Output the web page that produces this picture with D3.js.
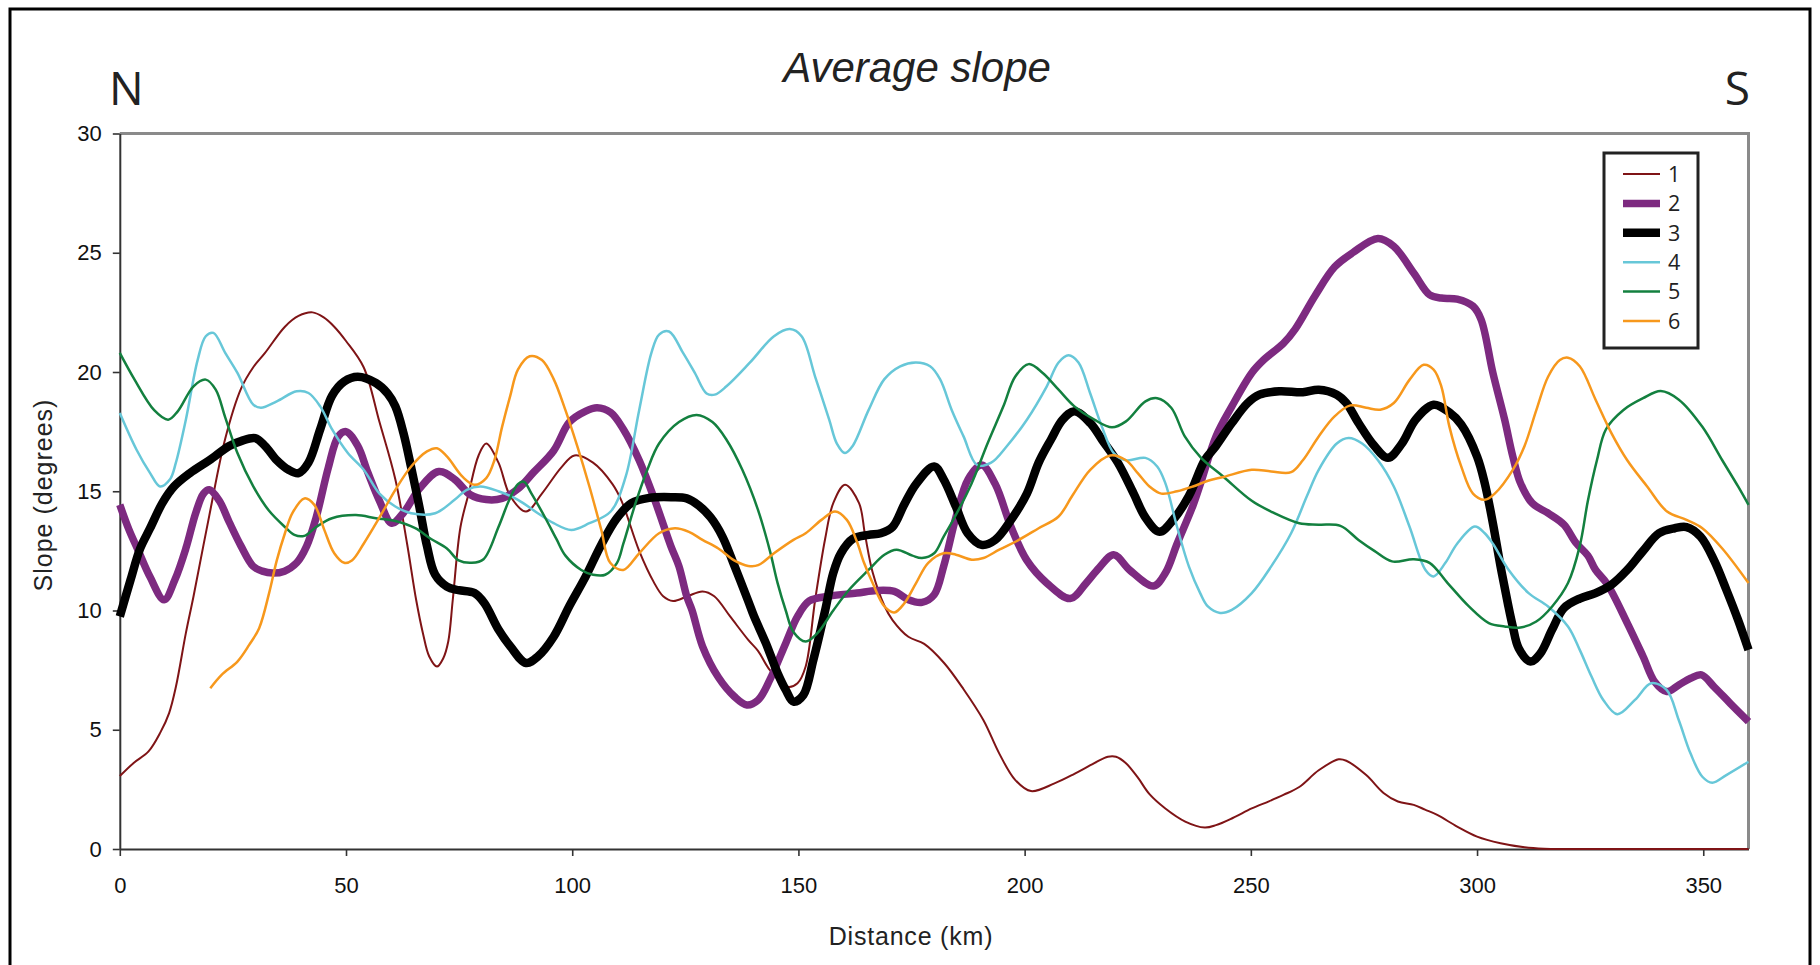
<!DOCTYPE html>
<html>
<head>
<meta charset="utf-8">
<script src="https://cdn.jsdelivr.net/npm/d3@7"></script>
<style>
  html, body { margin: 0; padding: 0; background: #fff; }
  svg { display: block; }
</style>
</head>
<body>
<svg id="chart" width="1820" height="965"></svg>
<script>
// ---------------- DATA (distance km, slope degrees) ----------------
const seriesNames = ["1", "2", "3", "4", "5", "6"];
const xTicks = [0, 50, 100, 150, 200, 250, 300, 350];
const yTicks = [0, 5, 10, 15, 20, 25, 30];

const series1 = [[0,3.06],[3,3.6],[6.3,4.08],[9,4.9],[10.9,5.7],[12.4,6.8],[14.6,9.05],[16.3,10.6],[19.8,14.0],[23.3,17.2],[26.8,19.3],[29.5,20.2],[32.1,20.8],[36.5,21.9],[39.5,22.35],[42.6,22.5],[45,22.3],[47.4,21.9],[50,21.3],[53.9,20.2],[57.4,17.9],[60.9,15.5],[63.5,12.8],[65.5,10.45],[67,9.05],[68.4,8.07],[70.1,7.65],[71.5,8.0],[72.6,8.7],[73.6,10.45],[75.3,13.5],[77.1,14.9],[79.3,16.5],[81,17.0],[83.7,16.2],[86.3,14.8],[89.8,14.15],[93.3,14.9],[97.6,16.0],[100.5,16.5],[104.6,16.2],[108.9,15.3],[110.9,14.6],[114.8,12.5],[118,11.2],[120.1,10.6],[122.3,10.4],[125.5,10.6],[128.8,10.8],[131.4,10.6],[134.9,9.75],[138.9,8.77],[141.1,8.3],[143.7,7.5],[147.6,6.8],[149.8,6.95],[151.6,7.65],[153.7,10.45],[155.9,13.0],[157.7,14.5],[160.3,15.27],[163.4,14.5],[164.7,13.2],[166.4,11.6],[169,10.2],[170.8,9.6],[174.3,8.9],[177.8,8.6],[182.2,7.8],[186.5,6.7],[190.9,5.4],[194.4,4.0],[197.9,2.9],[201.4,2.43],[206.6,2.75],[211,3.15],[215.4,3.6],[218.4,3.87],[220.2,3.87],[222.4,3.6],[225,3.0],[227.6,2.3],[231.1,1.7],[235.5,1.15],[239.8,0.9],[242.3,1.0],[246,1.3],[250.2,1.7],[254,2.0],[257.2,2.27],[260.7,2.6],[265,3.3],[269.4,3.76],[271.1,3.7],[275.5,3.1],[279.4,2.34],[282.5,1.99],[286,1.85],[288.5,1.65],[291.2,1.43],[295.6,0.94],[300,0.52],[305.2,0.24],[310.5,0.07],[314.8,0.01],[320,0],[340,0],[360,0]];

const series2 = [[0,14.43],[2,13.4],[4.1,12.5],[6.7,11.4],[9.8,10.45],[12.2,11.3],[14.6,12.6],[16.8,14.1],[18.5,14.9],[19.8,15.06],[22,14.6],[24.2,13.7],[26.8,12.7],[29.5,11.85],[31.5,11.65],[33.8,11.57],[36.4,11.65],[39.1,12.0],[41.3,12.7],[43.4,13.9],[46.1,16.0],[48.3,17.3],[50,17.5],[52.6,16.9],[54.8,15.8],[57.4,14.6],[60.1,13.66],[62.7,14.1],[66.2,15.1],[70.5,15.83],[74,15.5],[77.5,14.85],[81,14.65],[84.5,14.7],[88,15.1],[91.5,15.8],[95.9,16.7],[99.4,17.9],[102.9,18.35],[105.5,18.5],[108.5,18.3],[111.3,17.6],[114.8,16.3],[118.3,14.6],[121.8,12.7],[123.6,11.85],[125.3,10.6],[126.5,10.0],[128.8,8.5],[132.3,7.2],[135.8,6.4],[138.6,6.04],[141.1,6.25],[143.7,7.1],[147.2,8.63],[149.8,9.75],[152.4,10.4],[156.8,10.6],[162.9,10.73],[167.3,10.84],[171.2,10.8],[174.3,10.45],[177.3,10.34],[180,10.66],[182.1,11.85],[184.8,13.9],[187.5,15.5],[190.5,16.1],[193.5,15.3],[197,13.5],[200.5,12.1],[204.9,11.15],[210.1,10.5],[213.6,11.15],[216.5,11.8],[219.7,12.34],[223.2,11.7],[228.5,11.03],[231.1,11.57],[233.7,12.8],[237.2,14.4],[239,15.4],[242.3,17.3],[245.8,18.56],[250.2,19.96],[252.8,20.5],[257.2,21.2],[259.8,21.8],[264.2,23.2],[268.5,24.4],[272.5,25.0],[278.1,25.6],[281.6,25.27],[286,24.15],[289.5,23.24],[292.1,23.1],[295.6,23.06],[299.1,22.76],[300.9,22.2],[303.5,19.96],[306.1,18.0],[307.9,16.46],[309.6,15.34],[312.2,14.5],[315.7,14.08],[319.2,13.6],[321.8,12.85],[324.5,12.3],[326.2,11.7],[328.8,11.1],[333.2,9.47],[336.7,8.07],[339.3,7.0],[341.9,6.6],[344.6,6.88],[347.2,7.16],[349.6,7.3],[352.4,6.8],[356,6.1],[360,5.34]];

const series3 = [[0,9.75],[2.4,11.3],[4.5,12.6],[6.7,13.45],[9.4,14.5],[12,15.2],[15.5,15.76],[19.8,16.3],[24.2,16.9],[26.8,17.1],[29.9,17.23],[32.1,16.9],[34.7,16.3],[37.3,15.9],[39.5,15.76],[41.7,16.2],[44.3,17.6],[46.9,19.0],[49.6,19.6],[52.6,19.8],[56.6,19.54],[59.2,19.1],[60.9,18.56],[62.7,17.44],[64.4,16.0],[66.2,14.36],[67.9,12.7],[69.7,11.5],[72.3,11.0],[74.9,10.85],[78.4,10.73],[80.6,10.3],[83.7,9.2],[86.3,8.5],[89.8,7.8],[92.4,8.07],[95.9,8.9],[99.4,10.2],[102.9,11.4],[106.4,12.75],[109.8,13.85],[113.1,14.5],[117,14.72],[122,14.75],[125.3,14.7],[128,14.4],[130.6,13.9],[133.2,13.1],[135.8,11.9],[138.9,10.4],[140.2,9.75],[142.8,8.63],[145.4,7.37],[147.2,6.67],[148.9,6.18],[151.1,6.46],[153.3,7.93],[155.9,10.0],[157.7,11.57],[159.4,12.4],[162,13.0],[165.5,13.17],[168.2,13.24],[170.8,13.5],[173.4,14.45],[176,15.3],[180,16.04],[182.1,15.5],[184.8,14.36],[187.4,13.24],[190.5,12.75],[193.5,12.96],[197,13.8],[200.5,14.9],[203.1,16.2],[205.8,17.16],[208.4,18.0],[211,18.35],[214.5,17.86],[217.1,17.16],[220.6,16.2],[224.1,14.9],[226.7,13.9],[229.8,13.3],[232.8,13.8],[236.3,14.8],[239.8,16.3],[242.3,16.9],[245.8,17.86],[249.3,18.7],[251.9,19.05],[256.3,19.19],[261.5,19.15],[265,19.26],[269,19.05],[271.1,18.7],[273.8,17.86],[277.3,16.9],[280.3,16.4],[283.4,17.0],[286.4,18.0],[290.4,18.63],[293.9,18.3],[296.5,17.8],[300,16.46],[301.7,15.34],[303.5,13.66],[305.2,11.85],[306.8,10.3],[307.9,9.33],[309.2,8.42],[311.8,7.86],[314,8.2],[316.6,9.2],[319.2,10.1],[322.7,10.5],[326.2,10.73],[329.7,11.08],[333.2,11.7],[336.7,12.5],[340.2,13.24],[343.7,13.45],[346.3,13.5],[349.4,13.1],[352.4,12.1],[355.1,10.87],[357.7,9.6],[360,8.35]];

const series4 = [[0,18.28],[3.7,16.74],[6.7,15.76],[8.9,15.2],[11.1,15.5],[12.4,16.2],[14.6,18.0],[17.2,20.5],[19,21.5],[20.7,21.64],[23.3,20.8],[26,19.96],[29.5,18.63],[31.2,18.5],[34.7,18.77],[39.1,19.19],[41.7,19.12],[44.3,18.56],[46.9,17.6],[50.4,16.6],[53.9,15.9],[57.4,14.9],[60.9,14.36],[64.4,14.08],[69.7,14.08],[74,14.64],[76.7,15.06],[79.7,15.2],[83.7,15.0],[88,14.64],[92.4,14.08],[95.9,13.66],[99.8,13.38],[103.8,13.66],[108.5,14.15],[111.8,15.6],[114.8,18.4],[117.5,20.8],[119.2,21.57],[121.4,21.7],[124.5,20.8],[127.1,19.96],[129.7,19.1],[131.5,19.05],[134.1,19.4],[139.3,20.4],[144.6,21.5],[148.1,21.8],[150.7,21.5],[153.7,19.8],[156.8,18.0],[158.5,17.0],[160.3,16.6],[162,16.9],[165.5,18.4],[169,19.7],[172.5,20.24],[176,20.4],[179.1,20.24],[181.3,19.7],[183.9,18.4],[186.5,17.3],[189.5,16.1],[192.6,16.2],[196.1,16.9],[200.5,18.0],[204.9,19.4],[207.5,20.4],[209.7,20.7],[211.9,20.4],[214.5,19.1],[217.1,17.7],[219.7,16.6],[222.4,16.3],[226.7,16.4],[229.3,16.04],[231.1,15.34],[233.7,13.5],[236.3,11.85],[238.8,10.73],[240.5,10.17],[243.2,9.9],[245.8,10.03],[250.2,10.73],[254.5,11.85],[258.9,13.24],[262.4,14.8],[265,15.9],[269,17.0],[271.6,17.23],[274.6,17.0],[278.1,16.3],[281.6,15.2],[285.1,13.5],[288.6,11.7],[290.4,11.43],[293,12.0],[295.6,12.8],[299.5,13.52],[301.7,13.24],[303.5,12.8],[307,11.7],[311.4,10.73],[315.7,10.17],[320.1,9.33],[322.7,8.35],[325.3,7.23],[327.9,6.25],[331,5.65],[334.9,6.25],[338.5,6.95],[341.9,6.67],[344.6,5.4],[347.2,4.0],[349.8,3.03],[352,2.78],[355.1,3.1],[360,3.66]];

const series5 = [[0,20.8],[3.2,19.7],[7.6,18.4],[10.7,18.0],[12.8,18.35],[16.3,19.4],[19,19.68],[21.2,19.26],[23.3,18.1],[26,16.6],[29.5,15.2],[32.9,14.2],[36.5,13.5],[38.6,13.17],[40.8,13.13],[43.4,13.5],[46.9,13.87],[52.2,14.0],[56.6,13.87],[60.9,13.75],[65.3,13.45],[68.8,13.0],[72.3,12.6],[74.9,12.1],[77.8,12.0],[80.4,12.15],[83.7,13.5],[86,14.6],[88,15.3],[89.3,15.4],[91,14.9],[94,13.9],[96.5,13.0],[98.5,12.3],[102,11.7],[104.6,11.5],[107.3,11.5],[109.9,12.0],[111.3,12.8],[114,14.5],[116.6,15.9],[119.2,17.0],[123.6,17.9],[127.5,18.2],[131,17.9],[134.1,17.16],[137.6,15.9],[141.1,14.2],[143.7,12.5],[145.4,11.15],[147.2,10.0],[148.9,9.1],[151.6,8.7],[154.2,9.05],[157.7,10.0],[161.2,10.87],[165.5,11.7],[169,12.34],[171.7,12.55],[175.2,12.3],[177.3,12.2],[180,12.4],[182.1,13.1],[184.5,13.9],[188.3,15.34],[191.8,17.0],[195.3,18.56],[197.9,19.8],[200.9,20.33],[204,19.96],[207.5,19.26],[211,18.56],[215.4,18.0],[219.3,17.68],[222.4,17.93],[226.7,18.77],[229.3,18.9],[232.4,18.5],[235.4,17.3],[239,16.4],[244,15.6],[250.2,14.6],[255,14.1],[260.7,13.66],[265,13.6],[269.8,13.55],[273.8,12.96],[277.3,12.5],[281.2,12.06],[286,12.15],[289.5,12.0],[293.5,11.15],[298.2,10.17],[302.6,9.47],[306.1,9.33],[309.6,9.29],[313.1,9.54],[316.6,10.17],[320.1,11.15],[322.7,12.7],[324.5,14.6],[326.5,16.3],[328.5,17.6],[332.3,18.4],[336.7,18.9],[340.6,19.2],[344.6,18.84],[349.8,17.7],[354.2,16.3],[357.7,15.2],[360,14.43]];

const series6 = [[20,6.74],[22.5,7.3],[26,7.86],[28.6,8.56],[30.8,9.26],[33,10.73],[34.7,12.1],[36.5,13.24],[38.2,14.1],[40.8,14.7],[43,14.43],[45.2,13.38],[47.4,12.4],[49.6,12.0],[51.3,12.1],[53.9,12.8],[57.4,13.9],[60.9,15.06],[64.4,16.04],[67.9,16.67],[70.1,16.8],[72.3,16.46],[75.8,15.6],[78.4,15.27],[81,15.55],[82.8,16.3],[84.5,17.7],[86.3,19.0],[88,20.1],[90.6,20.66],[93.3,20.5],[95.9,19.7],[98.5,18.4],[101.1,16.9],[103.8,15.2],[106.4,13.4],[108.4,12.0],[111.3,11.7],[114.8,12.4],[119.2,13.24],[122.7,13.45],[125.8,13.3],[128.8,12.96],[132.3,12.6],[135.8,12.1],[138.9,11.87],[141.1,11.9],[144.6,12.4],[148.9,12.96],[151.6,13.24],[155.1,13.8],[158.1,14.15],[160.7,13.8],[162.9,12.9],[164.5,12.0],[166.4,11.15],[169,10.17],[171.2,9.92],[173.4,10.3],[176,11.15],[178.7,12.0],[182.1,12.4],[184.8,12.34],[188.3,12.13],[190.9,12.2],[194.4,12.55],[198.8,12.97],[203.1,13.45],[207.5,13.94],[210.5,14.8],[214.5,15.9],[218.9,16.5],[222.4,16.3],[225,15.76],[227.6,15.2],[230.2,14.9],[233.7,15.0],[237.2,15.2],[240.7,15.45],[244,15.6],[250.2,15.9],[254.5,15.83],[258.9,15.8],[261.5,16.3],[265,17.3],[268.5,18.14],[272,18.6],[275.5,18.5],[278.6,18.42],[281.6,18.7],[285.1,19.68],[288.2,20.3],[290.4,20.1],[292.1,19.4],[293.9,17.7],[296.5,16.04],[299.1,14.9],[301.7,14.64],[303.9,14.9],[307.9,15.9],[310.5,16.9],[313.1,18.4],[315.7,19.8],[318.3,20.5],[320.1,20.6],[322.7,20.24],[326.2,18.84],[329.7,17.44],[333.2,16.3],[337.6,15.2],[342,14.15],[346.3,13.8],[349.8,13.45],[354.2,12.6],[360,11.15]];

const allSeries = [series1, series2, series3, series4, series5, series6];
const colors = ["#7f1416", "#7d2a80", "#000000", "#67c7d8", "#13803f", "#f7981c"];
const widths = [2, 7.5, 8.5, 2.5, 2.5, 2.5];

// ---------------- LAYOUT ----------------
const svg = d3.select("#chart");
const X0 = 119.8, X1 = 1748.5, Y0 = 849, Y1 = 133.5;
const x = d3.scaleLinear().domain([0, 360]).range([X0, X1]);
const y = d3.scaleLinear().domain([0, 30]).range([Y0, Y1]);

// outer frame (bottom edge is outside the picture)
svg.append("rect")
  .attr("x", 10).attr("y", 9).attr("width", 1800).attr("height", 1000)
  .attr("fill", "none").attr("stroke", "#000").attr("stroke-width", 3);

// title and N / S markers
svg.append("text")
  .attr("x", 917).attr("y", 81.5).attr("text-anchor", "middle")
  .attr("font-family", "'Liberation Sans', Arial, sans-serif")
  .attr("font-style", "italic").attr("font-size", 42).attr("fill", "#222")
  .text("Average slope");
svg.append("text")
  .attr("x", 109).attr("y", 105)
  .attr("font-family", "'Open Sans', sans-serif").attr("font-size", 46).attr("fill", "#222")
  .text("N");
svg.append("text")
  .attr("x", 1750).attr("y", 105).attr("text-anchor", "end")
  .attr("font-family", "'Open Sans', sans-serif").attr("font-size", 46).attr("fill", "#222")
  .text("S");

// plot frame (top and right, grey)
svg.append("path")
  .attr("d", `M${X0},${Y1}H${X1}V${Y0}`)
  .attr("fill", "none").attr("stroke", "#8a8a8a").attr("stroke-width", 3);

// axes
const fontAx = "'Liberation Sans', Arial, sans-serif";
const yAxis = svg.append("g").attr("transform", `translate(${X0},0)`)
  .call(d3.axisLeft(y).tickValues(yTicks).tickSize(7).tickPadding(11).tickSizeOuter(0));
const xAxis = svg.append("g").attr("transform", `translate(0,${Y0})`)
  .call(d3.axisBottom(x).tickValues(xTicks).tickSize(7).tickPadding(21).tickSizeOuter(0));
[yAxis, xAxis].forEach(g => {
  g.select(".domain").attr("stroke", "#333").attr("stroke-width", 2);
  g.selectAll(".tick line").attr("stroke", "#333").attr("stroke-width", 1.6);
  g.selectAll(".tick text").attr("font-family", fontAx).attr("font-size", 22).attr("fill", "#111");
});

// axis titles
svg.append("text")
  .attr("x", 911).attr("y", 945).attr("text-anchor", "middle")
  .attr("font-family", fontAx).attr("font-size", 25).attr("letter-spacing", 0.8).attr("fill", "#222")
  .text("Distance (km)");
svg.append("text")
  .attr("transform", "translate(52,495) rotate(-90)").attr("text-anchor", "middle")
  .attr("font-family", fontAx).attr("font-size", 25).attr("letter-spacing", 1).attr("fill", "#222")
  .text("Slope (degrees)");

// series lines
const line = d3.line()
  .x(d => x(d[0])).y(d => y(d[1]))
  .curve(d3.curveCatmullRom.alpha(0.5));
svg.append("g").selectAll("path")
  .data(allSeries)
  .join("path")
  .attr("d", line)
  .attr("fill", "none")
  .attr("stroke", (d, i) => colors[i])
  .attr("stroke-width", (d, i) => widths[i])
  .attr("stroke-linejoin", "round")
  .attr("stroke-linecap", "butt");

// legend
const lg = svg.append("g");
lg.append("rect")
  .attr("x", 1604).attr("y", 153).attr("width", 94).attr("height", 195)
  .attr("fill", "#fff").attr("stroke", "#222").attr("stroke-width", 3);
const legendY = d3.scaleLinear().domain([0, 5]).range([174, 321]);
seriesNames.forEach((name, i) => {
  lg.append("line")
    .attr("x1", 1623).attr("x2", 1660)
    .attr("y1", legendY(i)).attr("y2", legendY(i))
    .attr("stroke", colors[i]).attr("stroke-width", widths[i]);
  lg.append("text")
    .attr("x", 1668).attr("y", legendY(i)).attr("dy", "0.36em")
    .attr("font-family", "'Open Sans', sans-serif").attr("font-size", 21.5).attr("fill", "#222")
    .text(name);
});
</script>
</body>
</html>
